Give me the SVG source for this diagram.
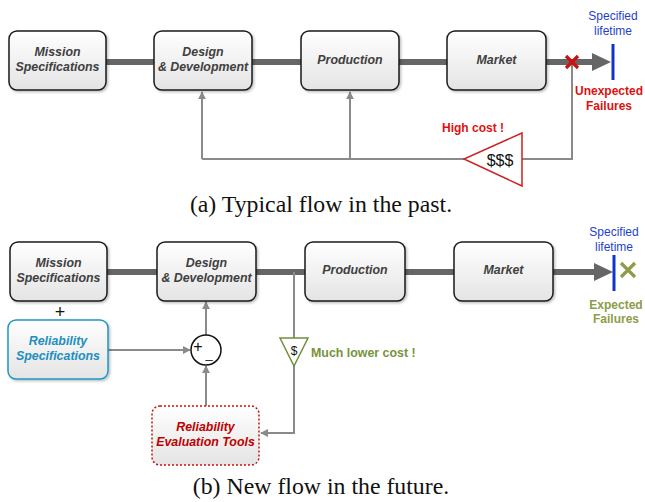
<svg xmlns="http://www.w3.org/2000/svg" width="645" height="502" viewBox="0 0 645 502">
<defs>
<linearGradient id="gbox" x1="0" y1="0" x2="0" y2="1"><stop offset="0" stop-color="#ffffff"/><stop offset="1" stop-color="#e4e4e4"/></linearGradient>
<filter id="sh" x="-10%" y="-10%" width="130%" height="130%"><feDropShadow dx="1.5" dy="1.5" stdDeviation="1.2" flood-color="#000" flood-opacity="0.25"/></filter>
<marker id="ag" viewBox="0 0 10 10" refX="9" refY="5" markerWidth="4" markerHeight="4" orient="auto"><path d="M0,0 L10,5 L0,10 Z" fill="#8a8a8a"/></marker>
</defs>
<style>
.box{fill:url(#gbox);stroke:#1a1a1a;stroke-width:1.5;filter:url(#sh)}
.lbl{font-family:"Liberation Sans",Arial,sans-serif;font-size:12.4px;font-weight:bold;font-style:italic;fill:#404040;text-anchor:middle}
.bar{stroke:#666;stroke-width:6;fill:none}
.fb{stroke:#8a8a8a;stroke-width:2;fill:none}
.cap{font-family:"Liberation Serif","Times New Roman",serif;font-size:23.8px;fill:#111;text-anchor:middle}
.blue{font-family:"Liberation Sans",Arial,sans-serif;font-size:12px;fill:#1f3fcc;text-anchor:middle}
.red{font-family:"Liberation Sans",Arial,sans-serif;font-size:12px;font-weight:bold;fill:#e01010;text-anchor:middle}
.grn{font-family:"Liberation Sans",Arial,sans-serif;font-size:12px;font-weight:bold;fill:#8c9c48;text-anchor:middle}
</style>

<g id="connectors">
<!-- (a) main flow -->
<line class="bar" x1="106" y1="62" x2="154" y2="62"/>
<line class="bar" x1="252" y1="62" x2="301" y2="62"/>
<line class="bar" x1="399" y1="62" x2="447" y2="62"/>
<line class="bar" x1="546" y1="62" x2="594" y2="62"/>
<path d="M592,53 L611,62 L592,71 Z" fill="#666"/>
<!-- (a) feedback -->
<polyline class="fb" points="572,62 572,159 522,159"/>
<line class="fb" x1="464" y1="159" x2="202" y2="159"/>
<line class="fb" x1="202" y1="159" x2="202" y2="92" marker-end="url(#ag)"/>
<line class="fb" x1="350" y1="159" x2="350" y2="92" marker-end="url(#ag)"/>
<!-- (b) main flow -->
<line class="bar" x1="107" y1="272" x2="157" y2="272"/>
<line class="bar" x1="256" y1="272" x2="305" y2="272"/>
<line class="bar" x1="405" y1="272" x2="454" y2="272"/>
<line class="bar" x1="553" y1="272" x2="596" y2="272"/>
<path d="M594,263 L613,272 L594,281 Z" fill="#666"/>
<!-- (b) branches -->
<line class="fb" x1="294" y1="272" x2="294" y2="338"/>
<polyline class="fb" points="294,366 294,433 261,433" marker-end="url(#ag)"/>
<line class="fb" x1="108" y1="350" x2="190" y2="350" marker-end="url(#ag)"/>
<line class="fb" x1="206" y1="406" x2="206" y2="366" marker-end="url(#ag)"/>
<line class="fb" x1="206" y1="335" x2="206" y2="302" marker-end="url(#ag)"/>
</g>

<!-- (a) nodes -->
<g id="a-mission"><rect class="box" x="9" y="31" width="97" height="59" rx="8"/><text class="lbl" x="57.5" y="56">Mission</text><text class="lbl" x="57.5" y="71">Specifications</text></g>
<g id="a-design"><rect class="box" x="154" y="31" width="98" height="59" rx="8"/><text class="lbl" x="203" y="56">Design</text><text class="lbl" x="203" y="71">&amp; Development</text></g>
<g id="a-production"><rect class="box" x="301" y="31" width="98" height="59" rx="8"/><text class="lbl" x="350" y="64">Production</text></g>
<g id="a-market"><rect class="box" x="447" y="31" width="99" height="59" rx="8"/><text class="lbl" x="496.5" y="64">Market</text></g>
<g id="a-lifetime"><line x1="613" y1="44" x2="613" y2="80" stroke="#1133cc" stroke-width="3"/><text class="blue" x="613" y="20">Specified</text><text class="blue" x="613" y="35">lifetime</text></g>
<g id="a-failure"><path d="M566,56 L578,68 M578,56 L566,68" stroke="#cc1111" stroke-width="3.2"/><text class="red" x="609" y="95">Unexpected</text><text class="red" x="609" y="110">Failures</text></g>
<g id="a-cost"><polygon points="522,133 522,186 464,159" fill="#fff" stroke="#cc2222" stroke-width="1.5"/><text x="500" y="166" font-family="Liberation Sans,Arial,sans-serif" font-size="16" fill="#111" text-anchor="middle">$$$</text><text class="red" x="473" y="132">High cost !</text></g>
<text class="cap" x="321" y="212">(a) Typical flow in the past.</text>

<!-- (b) nodes -->
<g id="b-mission"><rect class="box" x="10" y="242" width="97" height="59" rx="8"/><text class="lbl" x="58.5" y="267">Mission</text><text class="lbl" x="58.5" y="282">Specifications</text></g>
<text x="60" y="318" font-family="Liberation Sans,Arial,sans-serif" font-size="18" fill="#111" text-anchor="middle">+</text>
<g id="b-design"><rect class="box" x="157" y="242" width="99" height="59" rx="8"/><text class="lbl" x="206.5" y="267">Design</text><text class="lbl" x="206.5" y="282">&amp; Development</text></g>
<g id="b-production"><rect class="box" x="305" y="242" width="100" height="59" rx="8"/><text class="lbl" x="355" y="274">Production</text></g>
<g id="b-market"><rect class="box" x="454" y="242" width="99" height="59" rx="8"/><text class="lbl" x="503.5" y="274">Market</text></g>
<g id="b-lifetime"><line x1="614" y1="255" x2="614" y2="291" stroke="#1133cc" stroke-width="3"/><text class="blue" x="614" y="236">Specified</text><text class="blue" x="614" y="251">lifetime</text></g>
<g id="b-failure"><path d="M621,263 L635,277 M635,263 L621,277" stroke="#8c9c48" stroke-width="3.2"/><text class="grn" x="616" y="309">Expected</text><text class="grn" x="616" y="323">Failures</text></g>
<g id="b-relspec"><rect x="8" y="320" width="100" height="59" rx="8" fill="url(#gbox)" stroke="#1e96c8" stroke-width="1.5" filter="url(#sh)"/><text class="lbl" x="58" y="345" style="fill:#1e8fc0">Reliability</text><text class="lbl" x="58" y="360" style="fill:#1e8fc0">Specifications</text></g>
<g id="b-sum"><circle cx="206" cy="350" r="15" fill="#fff" stroke="#111" stroke-width="1.5"/><text x="198" y="352" font-family="Liberation Sans,Arial,sans-serif" font-size="16" fill="#111" text-anchor="middle">+</text><text x="209" y="358" font-family="Liberation Sans,Arial,sans-serif" font-size="13" fill="#111" text-anchor="middle">_</text></g>
<g id="b-cost"><polygon points="280,338 308,338 294,366" fill="#fff" stroke="#6f9040" stroke-width="1.5"/><text x="294" y="355" font-family="Liberation Sans,Arial,sans-serif" font-size="12" fill="#111" text-anchor="middle">$</text><text x="311" y="357" font-family="Liberation Sans,Arial,sans-serif" font-size="12.4" font-weight="bold" fill="#77933c">Much lower cost !</text></g>
<g id="b-evaltools"><rect x="152" y="406" width="107" height="59" rx="8" fill="url(#gbox)" stroke="#cc1111" stroke-width="1.5" stroke-dasharray="2,2"/><text class="lbl" x="205.5" y="431" style="fill:#c00000">Reliability</text><text class="lbl" x="205.5" y="446" style="fill:#c00000">Evaluation Tools</text></g>
<text class="cap" x="321" y="494">(b) New flow in the future.</text>
</svg>
